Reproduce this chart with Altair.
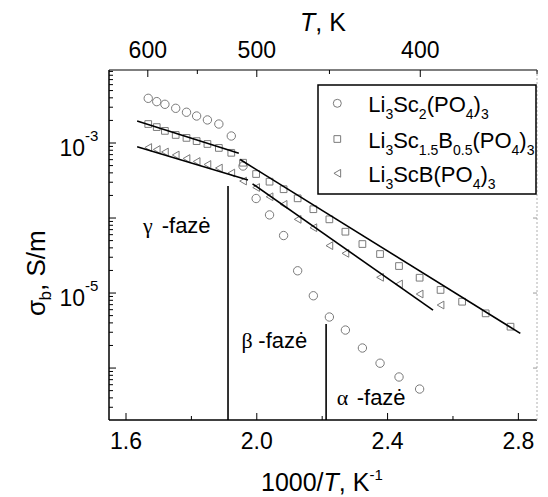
import altair as alt
import pandas as pd

FONT = "Liberation Sans"
SERIF = "Liberation Serif"
GRAY = "#7a7a7a"
W, H = 428, 350

X_DOMAIN = [1.548, 2.857]
Y_DOMAIN = [2.03e-7, 9.4e-3]

# ---- data ----
inv_T = [1.668, 1.694, 1.719, 1.752, 1.785, 1.816, 1.849, 1.884, 1.922, 1.958,
         1.998, 2.039, 2.082, 2.125, 2.173, 2.222, 2.271, 2.323, 2.377, 2.435,
         2.498, 2.562, 2.628, 2.700, 2.776]

circ_x = inv_T[:21]
circ_y = [3.94e-3, 3.56e-3, 3.28e-3, 2.90e-3, 2.57e-3, 2.29e-3, 2.03e-3, 1.79e-3,
          1.24e-3, 4.93e-4, 1.82e-4, 1.10e-4, 5.84e-5, 1.98e-5, 9.2e-6, 4.79e-6,
          3.21e-6, 1.85e-6, 1.16e-6, 7.6e-7, 5.25e-7]

sq_x = inv_T
sq_y = [1.79e-3, 1.63e-3, 1.45e-3, 1.28e-3, 1.17e-3, 1.06e-3, 9.7e-4, 8.6e-4,
        7.4e-4, 5.46e-4, 3.86e-4, 3.05e-4, 2.42e-4, 1.83e-4, 1.31e-4, 9.6e-5,
        6.57e-5, 4.50e-5, 3.31e-5, 2.29e-5, 1.60e-5, 1.10e-5, 7.66e-6, 5.36e-6,
        3.56e-6]

tri_x = inv_T[:17] + inv_T[18:22]
tri_y = [8.71e-4, 8.19e-4, 7.59e-4, 6.92e-4, 6.21e-4, 5.67e-4, 5.17e-4, 4.64e-4,
         3.98e-4, 3.11e-4, 2.55e-4, 1.92e-4, 1.52e-4, 9.6e-5, 7.43e-5, 4.28e-5,
         3.38e-5, 1.62e-5, 1.32e-5, 9.7e-6, 6.92e-6]

fit_seg = ["sq1", "sq1", "tri1", "tri1", "sq2", "sq2", "tri2", "tri2"]
fit_x = [1.634, 1.945, 1.634, 1.973, 1.949, 2.806, 1.987, 2.539]
fit_y = [1.96e-3, 7.29e-4, 8.93e-4, 3.21e-4, 6.03e-4, 2.90e-6, 2.86e-4, 5.93e-6]

phase_x = [1.912, 2.212]
phase_top = [2.67e-4, 3.86e-6]

x_tick_major = [1.6, 2.0, 2.4, 2.8]
x_tick_minor = [1.8, 2.2, 2.6]
x_tick_labels = ["1.6", "2.0", "2.4", "2.8"]
top_T_major = [600, 500, 400]
top_T_minor = [550, 450, 350]
y_major = [1e-6, 1e-5, 1e-4, 1e-3]
y_labels_v = [1e-3, 1e-5]
y_labels_sup = ["-3", "-5"]

legend_parts = [
    [("Li", 0), ("3", 1), ("Sc", 0), ("2", 1), ("(PO", 0), ("4", 1), (")", 0), ("3", 1)],
    [("Li", 0), ("3", 1), ("Sc", 0), ("1.5", 1), ("B", 0), ("0.5", 1), ("(PO", 0), ("4", 1), (")", 0), ("3", 1)],
    [("Li", 0), ("3", 1), ("ScB(PO", 0), ("4", 1), (")", 0), ("3", 1)],
]
legend_shapes = ["circle", "square", "triangle-left"]

# ---- helpers ----
xs = alt.Scale(domain=X_DOMAIN, nice=False, zero=False)
ys = alt.Scale(type="log", domain=Y_DOMAIN, nice=False)

WA = {c: 556 for c in "0123456789"}
WA.update({"L": 556, "i": 222, "S": 667, "c": 500, "(": 333, ")": 333, "P": 667,
           "O": 778, "B": 667, ".": 278, ",": 278, " ": 278, "/": 278, "T": 611,
           "K": 667, "-": 333, "m": 833, "b": 556, "σ": 600})


def tw(s, size):
    return sum(WA.get(ch, 556) for ch in s) * size / 1000.0


def one():
    return pd.DataFrame({"a": [0]})


def piece(t, px, py, size, align="left", baseline="alphabetic", font=FONT, **kw):
    return alt.Chart(pd.DataFrame({"t": [t]})).mark_text(
        font=font, fontSize=size, align=align, baseline=baseline, color="black", **kw
    ).encode(text="t:N", x=alt.value(px), y=alt.value(py))


def rule_px(x1, y1, x2, y2, color="black", width=1.5, dash=None):
    kw = dict(color=color, strokeWidth=width)
    if dash:
        kw["strokeDash"] = dash
    return alt.Chart(one()).mark_rule(**kw).encode(
        x=alt.value(x1), y=alt.value(y1), x2=alt.value(x2), y2=alt.value(y2))


def yticks(vals, x1, x2, color="black", width=1):
    return alt.Chart(pd.DataFrame({"v": vals})).mark_rule(color=color, strokeWidth=width).encode(
        y=alt.Y("v:Q", scale=ys, axis=None), x=alt.value(x1), x2=alt.value(x2))


def xticks(vals, y1, y2, width=1):
    return alt.Chart(pd.DataFrame({"v": vals})).mark_rule(color="black", strokeWidth=width).encode(
        x=alt.X("v:Q", scale=xs, axis=None), y=alt.value(y1), y2=alt.value(y2))


def pts(xv, yv, shape, size):
    return alt.Chart(pd.DataFrame({"x": xv, "y": yv})).mark_point(
        shape=shape, size=size, filled=False, color=GRAY, strokeWidth=1, opacity=1
    ).encode(x=alt.X("x:Q", scale=xs, axis=None), y=alt.Y("y:Q", scale=ys, axis=None))


layers = []

# data points
layers.append(pts(circ_x, circ_y, "circle", 70))
layers.append(pts(sq_x, sq_y, "square", 45))
layers.append(pts(tri_x, tri_y, "triangle-left", 60))

# fit lines
layers.append(alt.Chart(pd.DataFrame({"seg": fit_seg, "x": fit_x, "y": fit_y})).mark_line(
    color="black", strokeWidth=1.6).encode(
    x=alt.X("x:Q", scale=xs, axis=None), y=alt.Y("y:Q", scale=ys, axis=None), detail="seg:N"))

# phase boundaries
layers.append(alt.Chart(pd.DataFrame({"x": phase_x, "y": phase_top, "y2": [Y_DOMAIN[0]] * 2})).mark_rule(
    color="black", strokeWidth=1.6).encode(
    x=alt.X("x:Q", scale=xs, axis=None), y=alt.Y("y:Q", scale=ys, axis=None), y2="y2:Q"))

# phase labels
layers.append(piece("γ", 34, 163, 22, font=SERIF))
layers.append(piece("-fazė", 52.7, 163, 22))
layers.append(piece("β", 132.5, 278, 22, font=SERIF))
layers.append(piece("-fazė", 149.3, 278, 22))
layers.append(piece("α", 227.7, 335, 22, font=SERIF))
layers.append(piece("-fazė", 247.7, 335, 22))

# frame
layers.append(rule_px(0, 0, 0, H))
layers.append(rule_px(0, H, W, H))
layers.append(rule_px(0, 0, W, 0, width=1.2))
layers.append(rule_px(W, 0, W, H, color="#b0b0b0", width=1, dash=[2, 2]))

# ticks
y_minor = [k * 10.0 ** e for e in range(-7, -1) for k in range(2, 10)]
y_minor = [v for v in y_minor if Y_DOMAIN[0] < v < Y_DOMAIN[1]]
layers.append(yticks(y_major, 0, 7))
layers.append(yticks(y_minor, 0, 4))
layers.append(yticks(y_major, W, W - 4, color="#9a9a9a"))
layers.append(xticks(x_tick_major, H, H - 7))
layers.append(xticks(x_tick_minor, H, H - 4))
layers.append(xticks([1000.0 / t for t in top_T_major], 0, 7))
layers.append(xticks([1000.0 / t for t in top_T_minor], 0, 4))

# tick labels
layers.append(alt.Chart(pd.DataFrame({"v": x_tick_major, "t": x_tick_labels})).mark_text(
    font=FONT, fontSize=23, align="center", baseline="middle", color="black").encode(
    x=alt.X("v:Q", scale=xs, axis=None), y=alt.value(H + 22), text="t:N"))
layers.append(alt.Chart(pd.DataFrame({"v": [1000.0 / t for t in top_T_major],
                                      "t": [str(t) for t in top_T_major]})).mark_text(
    font=FONT, fontSize=23, align="center", baseline="middle", color="black").encode(
    x=alt.X("v:Q", scale=xs, axis=None), y=alt.value(-19), text="t:N"))
layers.append(alt.Chart(pd.DataFrame({"v": y_labels_v, "t": ["10"] * 2})).mark_text(
    font=FONT, fontSize=23, align="right", baseline="alphabetic", color="black", dy=13).encode(
    y=alt.Y("v:Q", scale=ys, axis=None), x=alt.value(-24), text="t:N"))
layers.append(alt.Chart(pd.DataFrame({"v": y_labels_v, "t": y_labels_sup})).mark_text(
    font=FONT, fontSize=15, align="left", baseline="alphabetic", color="black", dy=-2).encode(
    y=alt.Y("v:Q", scale=ys, axis=None), x=alt.value(-24), text="t:N"))

# axis titles
x0 = 152
base = 421
for txt, kind in [("1000/", "n"), ("T", "i"), (", K", "n"), ("-1", "s")]:
    if kind == "s":
        layers.append(piece(txt, x0, base - 11, 15))
        x0 += tw(txt, 15)
    else:
        layers.append(piece(txt, x0, base, 25, fontStyle="italic" if kind == "i" else "normal"))
        x0 += tw(txt, 25)

x0 = 191
for txt, kind in [("T", "i"), (", K", "n")]:
    layers.append(piece(txt, x0, -39, 25, fontStyle="italic" if kind == "i" else "normal"))
    x0 += tw(txt, 25)

yb = 246
bx = -64
layers.append(piece("σ", bx, yb, 26, angle=270))
yb -= tw("σ", 26)
layers.append(piece("b", bx + 6, yb, 17, angle=270))
yb -= tw("b", 17)
layers.append(piece(", S/m", bx, yb, 26, angle=270))

# legend
layers.append(alt.Chart(one()).mark_rect(fill="white", stroke="black", strokeWidth=1.5).encode(
    x=alt.value(209), x2=alt.value(427), y=alt.value(15), y2=alt.value(124)))
rows_y = [33.3, 69.0, 103.3]
sizes = [64, 45, 60]
for parts, ry, shp, sz in zip(legend_parts, rows_y, legend_shapes, sizes):
    layers.append(alt.Chart(one()).mark_point(shape=shp, size=sz, filled=False, color=GRAY,
                                              strokeWidth=1, opacity=1).encode(
        x=alt.value(228.3), y=alt.value(ry)))
    x0 = 259.3
    for txt, sub in parts:
        size = 14 if sub else 22
        layers.append(piece(txt, x0, ry + (16 if sub else 9), size))
        x0 += tw(txt, size)

chart = alt.layer(*layers).properties(
    width=W, height=H,
    autosize=alt.AutoSizeParams(type="none"),
    padding={"left": 101, "top": 62, "right": 3, "bottom": 77},
    background="white",
).configure_view(stroke=None)

chart.save("out.html", embed_options={"renderer": "svg", "actions": False})
